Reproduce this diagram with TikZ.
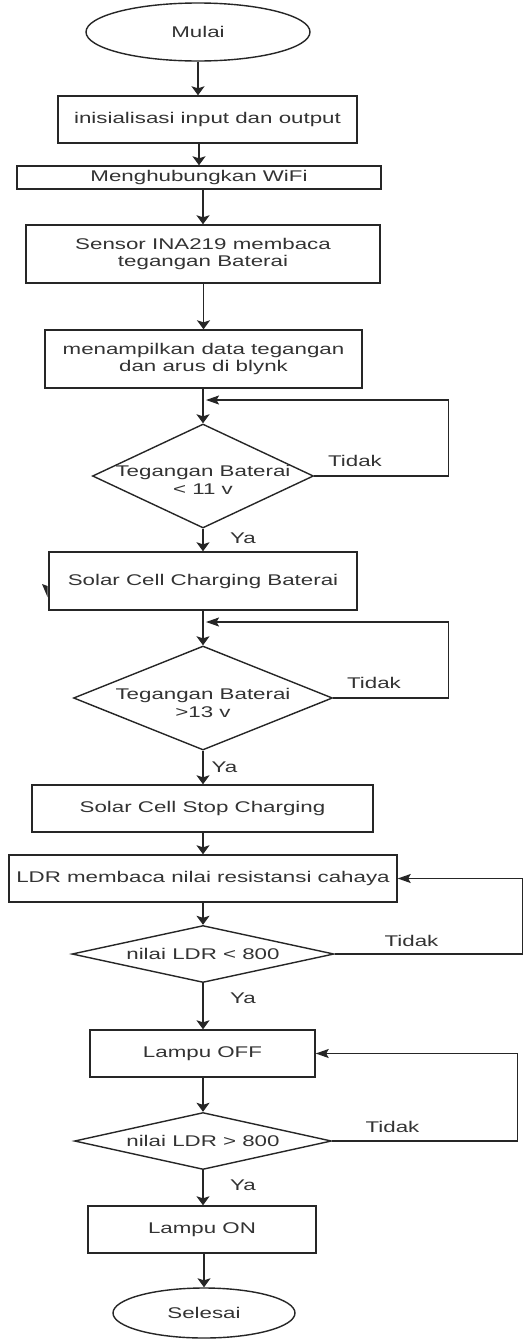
\documentclass[tikz,border=0pt]{standalone}
\usepackage{fontspec}
\setmainfont{Liberation Sans}[FakeStretch=1.44]
\usetikzlibrary{shapes.geometric,arrows.meta}
\tikzset{
 base/.style={draw=black!85, line width=1.4pt, inner sep=0pt, text=black!80, font=\fontsize{15.5}{17.8}\selectfont, align=center},
 term/.style={base, ellipse},
 proc/.style={base, rectangle},
 dec/.style={base, diamond},
 lbl/.style={inner sep=0pt, text=black!80, font=\fontsize{15.5}{17.8}\selectfont, align=center},
 varr/.style={draw=black!85, line width=1.5pt, -{Stealth[length=9pt,width=13pt,inset=2pt]}},
 harr/.style={draw=black!85, line width=1.4pt, -{Stealth[length=13pt,width=9pt,inset=2.5pt]}},
 wire/.style={draw=black!85, line width=1.4pt},
}
\begin{document}
\begin{tikzpicture}[x=1pt,y=-1pt]
\useasboundingbox[fill=white] (0,0) rectangle (523,1339);
% nodes
\node[term, minimum width=224pt, minimum height=58pt] (start) at (198,32) {Mulai};
\node[proc, minimum width=299pt, minimum height=47pt] (n1) at (207.5,119.5) {inisialisasi input dan output};
\node[proc, minimum width=364pt, minimum height=23pt] (n2) at (199,177.5) {Menghubungkan WiFi};
\node[proc, minimum width=354pt, minimum height=58pt] (n3) at (203,254) {Sensor INA219 membaca\\tegangan Baterai};
\node[proc, minimum width=317pt, minimum height=58pt] (n4) at (203.5,359) {menampilkan data tegangan\\dan arus di blynk};
\node[dec, minimum width=221pt, minimum height=104pt,
      label={[lbl,yshift=-4pt]center:Tegangan Baterai\\< 11 v}] (d1) at (203,476) {};
\node[proc, minimum width=308pt, minimum height=58pt] (n5) at (203,581) {Solar Cell Charging Baterai};
\node[dec, minimum width=259pt, minimum height=104pt,
      label={[lbl,yshift=-5pt]center:Tegangan Baterai\\>13 v}] (d2) at (203,698) {};
\node[proc, minimum width=341pt, minimum height=47pt] (n6) at (202.5,808.5) {Solar Cell Stop Charging};
\node[proc, minimum width=388pt, minimum height=47pt] (n7) at (203,878.5) {LDR membaca nilai resistansi cahaya};
\node[dec, minimum width=262pt, minimum height=57pt,
      label={[lbl]center:nilai LDR < 800}] (d3) at (203,954) {};
\node[proc, minimum width=225pt, minimum height=47pt] (n8) at (202.5,1053.5) {Lampu OFF};
\node[dec, minimum width=257pt, minimum height=57pt,
      label={[lbl]center:nilai LDR > 800}] (d4) at (203,1141) {};
\node[proc, minimum width=228pt, minimum height=47pt] (n9) at (202,1229.5) {Lampu ON};
\node[term, minimum width=182pt, minimum height=50pt] (end) at (204,1313) {Selesai};
% branch labels
\node[lbl] (t1) at (355,460.5) {Tidak};
\node[lbl] (y1) at (243,538) {Ya};
\node[lbl] (t2) at (374,682.5) {Tidak};
\node[lbl] (y2) at (224.5,767.5) {Ya};
\node[lbl] (t3) at (411.5,940.5) {Tidak};
\node[lbl] (y3) at (243,998.5) {Ya};
\node[lbl] (t4) at (392.5,1127) {Tidak};
\node[lbl] (y4) at (243,1185) {Ya};
% join points of loops
\coordinate (j1) at (206,400);
\coordinate (j2) at (206,622);
% main flow
\draw[varr] (start.south) -- (start.south |- n1.north);
\draw[varr] (n2.north |- n1.south) -- (n2.north);
\draw[varr] (n3.north |- n2.south) -- (n3.north);
\draw[varr] (n4.north |- n3.south) -- (n4.north);
\draw[varr] (d1.north |- n4.south) -- (d1.north);
\draw[varr] (d1.south) -- (d1.south |- n5.north);
\draw[varr] (d2.north |- n5.south) -- (d2.north);
\draw[varr] (d2.south) -- (d2.south |- n6.north);
\draw[varr] (n7.north |- n6.south) -- (n7.north);
\draw[varr] (d3.north |- n7.south) -- (d3.north);
\draw[varr] (d3.south) -- (d3.south |- n8.north);
\draw[varr] (d4.north |- n8.south) -- (d4.north);
\draw[varr] (d4.south) -- (d4.south |- n9.north);
\draw[varr] (end.north |- n9.south) -- (end.north);
% loops (Tidak)
\draw[harr] (d1.east) -- ++(134,0) |- (j1);
\draw[harr] (d2.east) -- ++(115,0) |- (j2);
\draw[harr] (d3.east) -- ++(187.5,0) |- (n7.east);
\draw[harr] (d4.east) -- ++(185,0) |- (n8.east);
% small stray mark left of the charging box
\fill[black!85] (42,584) -- (47.5,597) -- (47.5,586) -- cycle;
\end{tikzpicture}
\end{document}
